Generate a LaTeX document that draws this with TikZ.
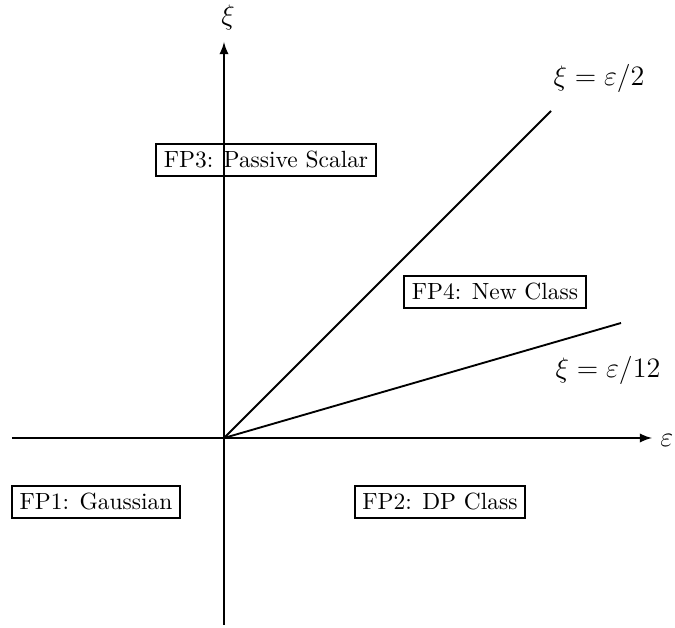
\documentclass[tikz,border=0pt]{standalone}
\usetikzlibrary{arrows}
\begin{document}
\begin{tikzpicture}[x=0.015cm,y=-0.015cm,
    fpbox/.style={draw,line width=0.9pt,inner sep=3.3pt},
    axis/.style={thick,-latex},
    bound/.style={thick}]
    % Page frame
    \useasboundingbox (0,0) rectangle (675,628);
    % Axis ends and origin
    \coordinate (O) at (224,438);
    \coordinate (xmin) at (12,438);
    \coordinate (xmax) at (652,438);
    \coordinate (ymin) at (224,625);
    \coordinate (ymax) at (224,42);
    \draw[axis] (xmin) -- (xmax);
    \draw[axis] (ymin) -- (ymax);
    \node[anchor=west,inner sep=0pt] (epslab) at (660,440) {\large $\varepsilon$};
    \node (xilab) at (228,17) {\large $\xi$};
    % Boundary lines
    \coordinate (halfend) at (551,111);
    \coordinate (twelfthend) at (621,323);
    \draw[bound] (O) -- (halfend);
    \draw[bound] (O) -- (twelfthend);
    \node (halflab) at (599,78) {\large $\xi=\varepsilon/2$};
    \node (twelfthlab) at (608,370) {\large $\xi=\varepsilon/12$};
    % Fixed points
    \node[fpbox] (fp1) at (96,502) {FP1: Gaussian};
    \node[fpbox] (fp2) at (440,502) {FP2: DP Class};
    \node[fpbox] (fp3) at (266,160) {FP3: Passive Scalar};
    \node[fpbox] (fp4) at (495,292) {FP4: New Class};
\end{tikzpicture}
\end{document}
